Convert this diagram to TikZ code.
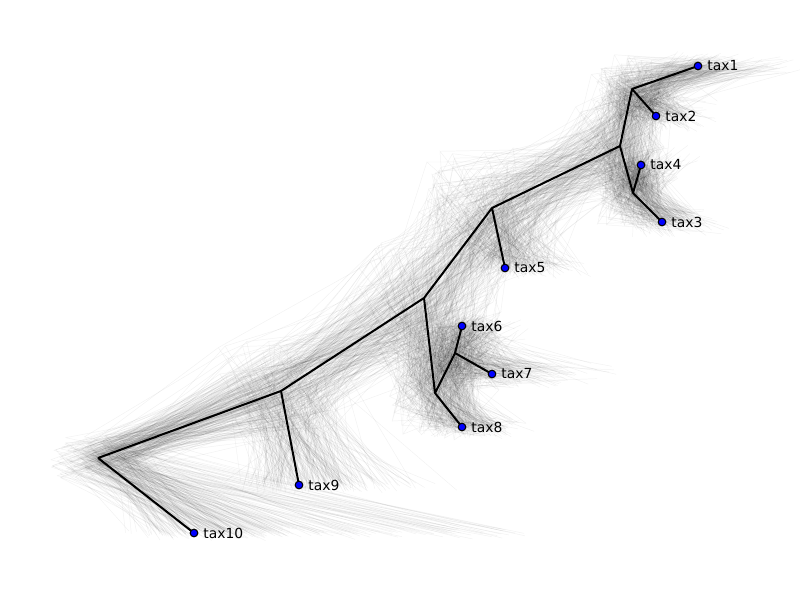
\documentclass[tikz,border=0pt]{standalone}
\usepackage{fontspec}
\setmainfont{DejaVu Sans}
\begin{document}
\begin{tikzpicture}[x=0.72pt,y=-0.72pt,
  branch/.style={line width=1.45pt,black},
  cloud/.style={line width=0.35pt,black,opacity=0.05},
  leaf/.style={circle,draw=black,fill=blue,line width=0.8pt,minimum size=5.5pt,inner sep=0pt},
  inner/.style={coordinate},
  lab/.style={anchor=west,inner sep=0pt,font=\fontsize{10pt}{12pt}\selectfont}]
\useasboundingbox (0,0) rectangle (800,600);
\pgfmathsetseed{11}
% cloud of alternative trees
\foreach \k in {1,...,300}{
  \foreach \nm/\x/\y/\sx/\sy/\bx in {a/98/458/26/12/0, b/281/391/36/26/0, c/424/298/40/34/0, d/492/208/40/32/0, e/620/146/26/28/0, f/632/89/22/18/0, g/633/193/18/18/0, h/435/393/26/24/0, i/455/353/24/22/0,
     t1/698/66/20/8/80, t2/656/116/22/10/40, t4/641/165/18/10/30, t3/662/222/22/8/40, t5/505/268/28/6/60, t6/462/326/22/8/40, t7/492/374/36/8/90, t8/462/427/26/6/40, t9/299/485/40/5/100, t10/194/533/45/4/330}{
    \pgfmathsetmacro\jx{(rand+rand)*\sx+\bx*pow(rnd,4)}
    \pgfmathsetmacro\jy{(rand+rand)*\sy}
    \coordinate (j\nm) at (\x+\jx,\y+\jy);
  }
  \draw[cloud] (ja) -- (jt10) (ja) -- (jb) -- (jt9) (jb) -- (jc) -- (jh) -- (jt8) (jh) -- (ji) -- (jt6) (ji) -- (jt7)
     (jc) -- (jd) -- (jt5) (jd) -- (je) -- (jf) -- (jt1) (jf) -- (jt2) (je) -- (jg) -- (jt4) (jg) -- (jt3);
}
% main tree
\node[inner] (n1) at (98,458) {};
\node[inner] (n2) at (281,391) {};
\node[inner] (n3) at (424,298) {};
\node[inner] (n4) at (492,208) {};
\node[inner] (n5) at (620,146) {};
\node[inner] (n6) at (632,89) {};
\node[inner] (n7) at (633,193) {};
\node[inner] (n8) at (435,393) {};
\node[inner] (n9) at (455,353) {};
\coordinate (p1) at (698,66);
\coordinate (p2) at (656,116);
\coordinate (p4) at (641,165);
\coordinate (p3) at (662,222);
\coordinate (p5) at (505,268);
\coordinate (p6) at (462,326);
\coordinate (p7) at (492,374);
\coordinate (p8) at (462,427);
\coordinate (p9) at (299,485);
\coordinate (p10) at (194,533);
\draw[branch,line join=round] (n1) -- (p10) (n1) -- (n2) -- (p9) (n2) -- (n3) -- (n8) -- (p8) (n8) -- (n9) -- (p6) (n9) -- (p7)
  (n3) -- (n4) -- (p5) (n4) -- (n5) -- (n6) -- (p1) (n6) -- (p2) (n5) -- (n7) -- (p4) (n7) -- (p3);
\foreach \t in {1,...,10}{
  \node[leaf] (tax\t) at (p\t) {};
  \node[lab] (l\t) at ([xshift=6.6pt]p\t) {tax\t};
}
\end{tikzpicture}
\end{document}
